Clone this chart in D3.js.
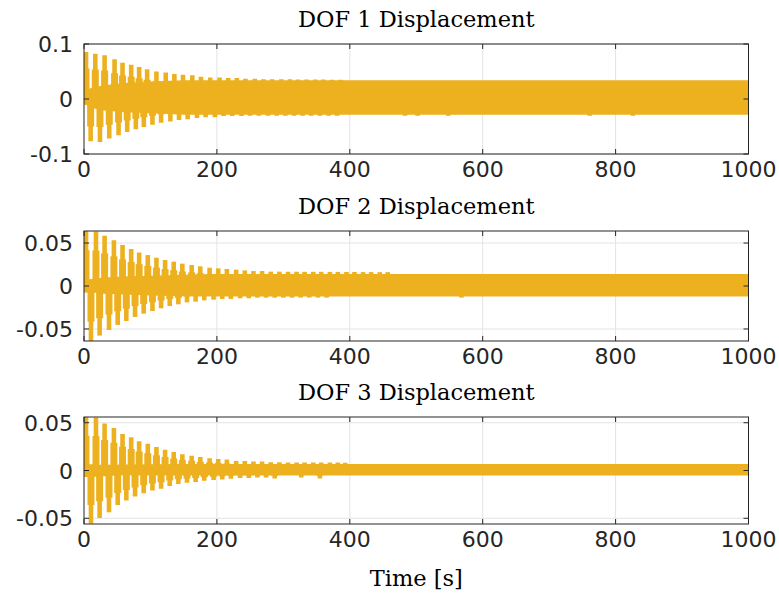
<!DOCTYPE html>
<html><head><meta charset="utf-8">
<script src="https://cdn.jsdelivr.net/npm/d3@7"></script>
<style>body{margin:0;background:#fff}svg{display:block}</style>
</head><body>
<svg id="c" width="779" height="596"></svg>
<script>
// ---------- data ----------
const titles = ["DOF 1 Displacement", "DOF 2 Displacement", "DOF 3 Displacement"];
const xTicks = [0, 200, 400, 600, 800, 1000];
const yTicks1 = [-0.1, 0, 0.1];
const yTicks2 = [-0.05, 0, 0.05];
const yTicks3 = [-0.05, 0, 0.05];
const yLimits = [0.1, 0.064, 0.056];

// DOF 1: beat peaks (upper / lower) and the steady band envelope
const dof1UpT = [3, 17, 31, 46, 58, 71, 83, 95, 109, 123, 136, 149, 163, 176, 190, 204, 217, 230, 243, 257, 270, 283, 297, 310, 322, 335, 348, 360, 373, 386];
const dof1UpV = [0.0855, 0.0824, 0.0794, 0.0721, 0.066, 0.0624, 0.058, 0.054, 0.050, 0.048, 0.0455, 0.044, 0.043, 0.0406, 0.039, 0.039, 0.038, 0.038, 0.037, 0.037, 0.036, 0.036, 0.036, 0.036, 0.0355, 0.0355, 0.0355, 0.0355, 0.035, 0.035];
const dof1LoT = [10, 24, 38, 52, 65, 78, 90, 103, 116, 130, 143, 156, 170, 183, 197, 210, 223, 237, 250, 263, 277, 290, 303, 316, 329, 342, 355, 368, 381, 483, 502, 548, 761, 826];
const dof1LoV = [-0.077, -0.078, -0.072, -0.066, -0.060, -0.055, -0.051, -0.047, -0.043, -0.041, -0.038, -0.037, -0.0345, -0.033, -0.033, -0.031, -0.031, -0.031, -0.0305, -0.0305, -0.0305, -0.0305, -0.0305, -0.0305, -0.0305, -0.0305, -0.0305, -0.0305, -0.0305, -0.0305, -0.0305, -0.0305, -0.0305, -0.0305];
const dof1BandT = [0, 10, 30, 60, 100, 150, 1000];
const dof1BandHi = [0.010, 0.020, 0.025, 0.029, 0.032, 0.034, 0.034];
const dof1BandLo = [-0.008, -0.016, -0.021, -0.024, -0.026, -0.0285, -0.0285];

// DOF 2
const dof2UpT = [3, 18, 31, 45, 58, 71, 83, 96, 109, 122, 135, 148, 162, 175, 189, 202, 215, 229, 242, 255, 268, 281, 294, 307, 320, 332, 345, 357, 370, 382, 395, 407, 420, 432, 445, 457];
const dof2UpV = [0.064, 0.0635, 0.0585, 0.0531, 0.0477, 0.043, 0.0391, 0.036, 0.0329, 0.0302, 0.0283, 0.026, 0.0244, 0.0229, 0.0213, 0.0205, 0.0198, 0.019, 0.0182, 0.0174, 0.0174, 0.0167, 0.0167, 0.0166, 0.0166, 0.0165, 0.0165, 0.0165, 0.0164, 0.0164, 0.0163, 0.0163, 0.0162, 0.0162, 0.0161, 0.0161];
const dof2LoT = [10.5, 23.5, 37.6, 50.7, 63.7, 76.8, 89.8, 103, 116, 129, 142, 155, 168, 181, 195, 208, 221, 235, 248, 261, 274, 287, 300, 313, 326, 339, 352, 365, 568];
const dof2LoV = [-0.064, -0.0577, -0.0512, -0.0453, -0.0407, -0.036, -0.0322, -0.0291, -0.026, -0.0233, -0.0213, -0.019, -0.0182, -0.0167, -0.0159, -0.0151, -0.0151, -0.0143, -0.0143, -0.0136, -0.0136, -0.0136, -0.0136, -0.0136, -0.0135, -0.0135, -0.0135, -0.0135, -0.0135];
const dof2BandT = [0, 10, 30, 60, 100, 150, 200, 1000];
const dof2BandHi = [0.005, 0.008, 0.010, 0.011, 0.012, 0.013, 0.014, 0.014];
const dof2BandLo = [-0.005, -0.007, -0.009, -0.010, -0.011, -0.012, -0.0123, -0.0123];

// DOF 3
const dof3UpT = [3, 18, 31, 45, 58, 71, 83, 96, 109, 122, 135, 148, 162, 175, 189, 202, 215, 229, 242, 255, 268, 281, 294, 307, 320, 332, 345, 357, 370, 382, 393];
const dof3UpV = [0.056, 0.0555, 0.0493, 0.0445, 0.0383, 0.0348, 0.0307, 0.0279, 0.0245, 0.0217, 0.0193, 0.0169, 0.0155, 0.0141, 0.0128, 0.0121, 0.0114, 0.010, 0.010, 0.0093, 0.0093, 0.0086, 0.0086, 0.0085, 0.0085, 0.0085, 0.0084, 0.0084, 0.0083, 0.0083, 0.0082];
const dof3LoT = [10.5, 23.5, 37.6, 50.7, 63.7, 76.8, 89.8, 103, 116, 129, 142, 155, 168, 181, 195, 208, 221, 235, 248, 261, 274, 287, 327, 355];
const dof3LoV = [-0.0555, -0.0497, -0.0438, -0.0362, -0.0314, -0.0272, -0.0238, -0.021, -0.019, -0.0162, -0.0141, -0.0128, -0.0121, -0.0107, -0.010, -0.0093, -0.0086, -0.0079, -0.0079, -0.0072, -0.0072, -0.0083, -0.0072, -0.0083];
const dof3BandT = [0, 10, 30, 60, 100, 150, 200, 1000];
const dof3BandHi = [0.004, 0.005, 0.006, 0.0062, 0.0065, 0.0067, 0.0068, 0.0068];
const dof3BandLo = [-0.004, -0.0045, -0.005, -0.005, -0.0052, -0.0052, -0.0052, -0.0052];

// ---------- drawing ----------
const panels = [
  {title: titles[0], lim: yLimits[0], yt: yTicks1, top: 44, bottom: 154,
   upT: dof1UpT, upV: dof1UpV, loT: dof1LoT, loV: dof1LoV, bT: dof1BandT, bHi: dof1BandHi, bLo: dof1BandLo},
  {title: titles[1], lim: yLimits[1], yt: yTicks2, top: 231, bottom: 341,
   upT: dof2UpT, upV: dof2UpV, loT: dof2LoT, loV: dof2LoV, bT: dof2BandT, bHi: dof2BandHi, bLo: dof2BandLo},
  {title: titles[2], lim: yLimits[2], yt: yTicks3, top: 417, bottom: 524,
   upT: dof3UpT, upV: dof3UpV, loT: dof3LoT, loV: dof3LoV, bT: dof3BandT, bHi: dof3BandHi, bLo: dof3BandLo}
];
const svg = d3.select("#c");
const left = 84, right = 748.5;
const col = "#EDB120", axisCol = "#262626", gridCol = "#e3e3e3";
const fmt = d => (d === 0 ? "0" : String(d)).replace("\u2212", "-");

panels.forEach((p, i) => {
  const x = d3.scaleLinear().domain([0, 1000]).range([left, right]);
  const y = d3.scaleLinear().domain([-p.lim, p.lim]).range([p.bottom, p.top]);
  const g = svg.append("g");
  const cid = "clip" + i;
  g.append("clipPath").attr("id", cid).append("rect")
    .attr("x", left).attr("y", p.top).attr("width", right - left).attr("height", p.bottom - p.top);

  // grid
  g.append("g").selectAll("line").data(xTicks.slice(1, -1)).join("line")
    .attr("x1", d => x(d)).attr("x2", d => x(d)).attr("y1", p.top).attr("y2", p.bottom)
    .attr("stroke", gridCol).attr("stroke-width", 1);
  g.append("g").selectAll("line").data(p.yt).join("line")
    .attr("x1", left).attr("x2", right).attr("y1", d => y(d)).attr("y2", d => y(d))
    .attr("stroke", gridCol).attr("stroke-width", 1);

  const dg = g.append("g").attr("clip-path", `url(#${cid})`);
  // steady band
  const band = p.bT.map((t, k) => ({t, hi: p.bHi[k], lo: p.bLo[k]}));
  dg.append("path").datum(band)
    .attr("d", d3.area().x(d => x(d.t)).y0(d => y(d.lo)).y1(d => y(d.hi)))
    .attr("fill", col);
  // beat peaks: narrow tip + wider shoulder
  const peaks = p.upT.map((t, k) => ({t, v: p.upV[k]}))
    .concat(p.loT.map((t, k) => ({t, v: p.loV[k]})));
  dg.append("g").selectAll("line").data(peaks).join("line")
    .attr("x1", d => x(d.t)).attr("x2", d => x(d.t))
    .attr("y1", d => y(0.65 * d.v)).attr("y2", d => y(-0.1 * d.v))
    .attr("stroke", col).attr("stroke-width", 7);
  dg.append("g").selectAll("line").data(peaks).join("line")
    .attr("x1", d => x(d.t)).attr("x2", d => x(d.t))
    .attr("y1", d => y(d.v)).attr("y2", d => y(-0.12 * d.v))
    .attr("stroke", col).attr("stroke-width", 4.6);

  // axes box
  const tl = 5;
  const ax = g.append("g");
  ax.append("rect").attr("x", left).attr("y", p.top).attr("width", right - left).attr("height", p.bottom - p.top)
    .attr("fill", "none").attr("stroke", axisCol).attr("stroke-width", 1);
  xTicks.forEach(d => {
    ax.append("line").attr("x1", x(d)).attr("x2", x(d)).attr("y1", p.bottom).attr("y2", p.bottom - tl).attr("stroke", axisCol);
    ax.append("line").attr("x1", x(d)).attr("x2", x(d)).attr("y1", p.top).attr("y2", p.top + tl).attr("stroke", axisCol);
  });
  p.yt.forEach(d => {
    ax.append("line").attr("x1", left).attr("x2", left + tl).attr("y1", y(d)).attr("y2", y(d)).attr("stroke", axisCol);
    ax.append("line").attr("x1", right).attr("x2", right - tl).attr("y1", y(d)).attr("y2", y(d)).attr("stroke", axisCol);
  });
  // tick labels
  g.append("g").selectAll("text").data(xTicks).join("text")
    .attr("x", d => x(d)).attr("y", p.bottom + 23).attr("text-anchor", "middle")
    .attr("font-family", "DejaVu Sans").attr("font-size", 22).attr("fill", axisCol).text(d => fmt(d));
  g.append("g").selectAll("text").data(p.yt).join("text")
    .attr("x", left - 11).attr("y", d => y(d) + 8).attr("text-anchor", "end")
    .attr("font-family", "DejaVu Sans").attr("font-size", 22).attr("fill", axisCol).text(d => fmt(d));
  // title
  g.append("text").attr("x", (left + right) / 2).attr("y", p.top - 17).attr("text-anchor", "middle")
    .attr("font-family", "DejaVu Serif").attr("font-size", 22.5).attr("fill", "#000").text(p.title);
});
svg.append("text").attr("x", (left + right) / 2).attr("y", 586).attr("text-anchor", "middle")
  .attr("font-family", "DejaVu Serif").attr("font-size", 22.5).attr("fill", "#000").text("Time [s]");
</script>
</body></html>
